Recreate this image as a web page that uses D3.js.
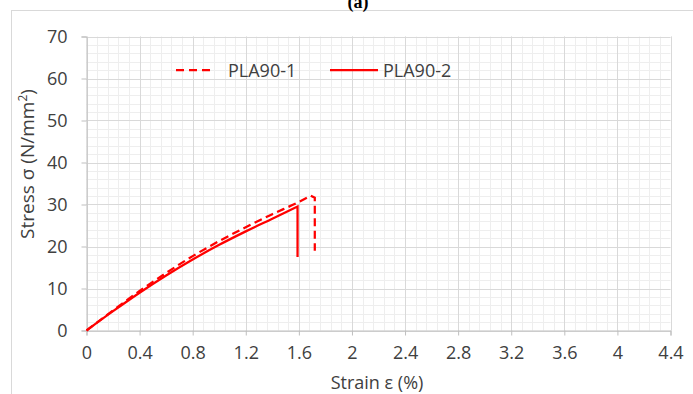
<!DOCTYPE html>
<html><head><meta charset="utf-8">
<script src="https://cdn.jsdelivr.net/npm/d3@7"></script>
<style>body{margin:0;background:#fff;}svg{display:block;}</style>
</head><body>
<svg id="c" width="693" height="394"></svg>
<script>
const seriesNames = ["PLA90-1", "PLA90-2"];
// rising part of each curve, then the points of the final drop
const strain1 = [0, 0.2, 0.4, 0.6, 0.8, 1.0, 1.2, 1.4, 1.6, 1.69];
const stress1 = [0, 4.8, 9.4, 13.7, 17.7, 21.3, 24.6, 27.7, 30.6, 32.1];
const drop1Strain = [1.72, 1.72];
const drop1Stress = [31.6, 19.0];
const strain2 = [0, 0.2, 0.4, 0.6, 0.8, 1.0, 1.2, 1.4, 1.59];
const stress2 = [0, 4.6, 9.0, 13.1, 16.9, 20.4, 23.6, 26.6, 29.5];
const drop2Strain = [1.59];
const drop2Stress = [17.5];
const xTicks = [0, 0.4, 0.8, 1.2, 1.6, 2, 2.4, 2.8, 3.2, 3.6, 4, 4.4];
const yTicks = [0, 10, 20, 30, 40, 50, 60, 70];

const svg = d3.select("#c");
const font = "'Open Sans', sans-serif";
const x = d3.scaleLinear().domain([0, 4.4]).range([86.5, 670.5]);
const y = d3.scaleLinear().domain([0, 70]).range([330.5, 36.5]);

// outer border
svg.append("rect").attr("x", 11.5).attr("y", 10.5).attr("width", 690).attr("height", 400)
  .attr("fill", "none").attr("stroke", "#d9d9d9");
svg.append("text").attr("x", 358).attr("y", 8).attr("text-anchor", "middle")
  .attr("font-family", "'Liberation Serif', serif").attr("font-weight", "bold").attr("font-size", 18).text("(a)");

// minor grid
const xMinor = d3.range(0, 4.4001, 0.08);
const yMinor = d3.range(0, 70.001, 2);
const g = svg.append("g");
g.selectAll(".xm").data(xMinor).join("line")
  .attr("x1", d => Math.round(x(d)) + 0.5).attr("x2", d => Math.round(x(d)) + 0.5)
  .attr("y1", y(0)).attr("y2", y(70)).attr("stroke", "#eeeeee");
g.selectAll(".ym").data(yMinor).join("line")
  .attr("y1", d => Math.round(y(d)) + 0.5).attr("y2", d => Math.round(y(d)) + 0.5)
  .attr("x1", x(0)).attr("x2", x(4.4)).attr("stroke", "#eeeeee");
// major grid
g.selectAll(".xM").data(xTicks).join("line")
  .attr("x1", d => Math.round(x(d)) + 0.5).attr("x2", d => Math.round(x(d)) + 0.5)
  .attr("y1", y(0)).attr("y2", y(70)).attr("stroke", "#d9d9d9");
g.selectAll(".yM").data(yTicks).join("line")
  .attr("y1", d => Math.round(y(d)) + 0.5).attr("y2", d => Math.round(y(d)) + 0.5)
  .attr("x1", x(0)).attr("x2", x(4.4)).attr("stroke", "#d9d9d9");

// axes
const xAxis = svg.append("g").attr("transform", `translate(0,${y(0)})`)
  .call(d3.axisBottom(x).tickValues(xTicks).tickSize(5).tickPadding(11).tickFormat(d => String(+d.toFixed(1))));
const yAxis = svg.append("g").attr("transform", `translate(${x(0)},0)`)
  .call(d3.axisLeft(y).tickValues(yTicks).tickSize(5).tickPadding(14));
[xAxis, yAxis].forEach(a => {
  a.select(".domain").attr("stroke", "#bfbfbf");
  a.selectAll(".tick line").attr("stroke", "#bfbfbf");
  a.selectAll("text").attr("font-family", font).attr("font-size", 18).attr("fill", "#404040");
});

// titles
svg.append("text").attr("x", 377).attr("y", 389).attr("text-anchor", "middle")
  .attr("font-family", font).attr("font-size", 18).attr("fill", "#404040").text("Strain ε (%)");
svg.append("text").attr("transform", "translate(34,164) rotate(-90)").attr("text-anchor", "middle")
  .attr("font-family", font).attr("font-size", 19).attr("fill", "#404040")
  .html('Stress σ (N/mm<tspan dy="-7" font-size="12">2</tspan><tspan dy="7">)</tspan>');

// lines
const smooth = d3.line().x(d => x(d[0])).y(d => y(d[1])).curve(d3.curveMonotoneX);
function pathFor(sx, sy, dx, dy) {
  let d = smooth(d3.zip(sx, sy));
  d3.zip(dx, dy).forEach(p => { d += `L${x(p[0])},${y(p[1])}`; });
  return d;
}
const red = "#ff0000";
svg.append("path").attr("d", pathFor(strain1, stress1, drop1Strain, drop1Stress))
  .attr("fill", "none").attr("stroke", red).attr("stroke-width", 2.25).attr("stroke-dasharray", "8,4.5");
svg.append("path").attr("d", pathFor(strain2, stress2, drop2Strain, drop2Stress))
  .attr("fill", "none").attr("stroke", red).attr("stroke-width", 2.25);

// legend
const leg = svg.append("g");
leg.append("line").attr("x1", 176).attr("x2", 214).attr("y1", 70).attr("y2", 70)
  .attr("stroke", red).attr("stroke-width", 2.25).attr("stroke-dasharray", "8,5");
leg.append("text").attr("x", 228).attr("y", 77).attr("font-family", font).attr("font-size", 18)
  .attr("fill", "#404040").text(seriesNames[0]);
leg.append("line").attr("x1", 330).attr("x2", 378).attr("y1", 70).attr("y2", 70)
  .attr("stroke", red).attr("stroke-width", 2.25);
leg.append("text").attr("x", 383).attr("y", 77).attr("font-family", font).attr("font-size", 18)
  .attr("fill", "#404040").text(seriesNames[1]);
</script>
</body></html>
